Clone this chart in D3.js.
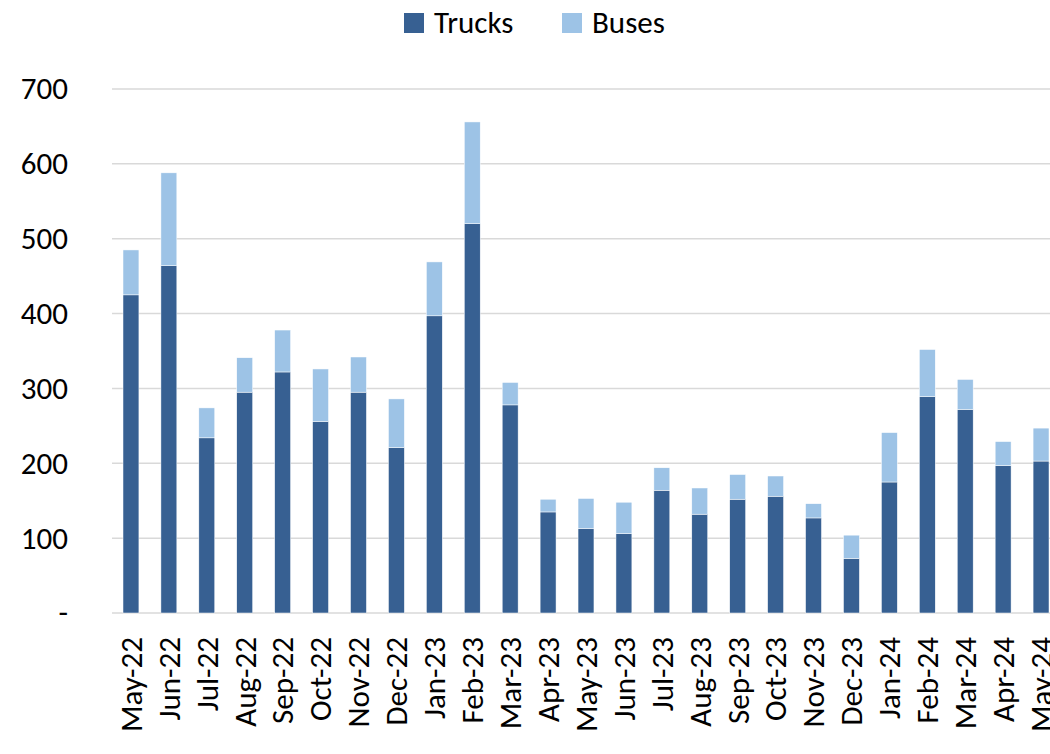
<!DOCTYPE html>
<html>
<head>
<meta charset="utf-8">
<script src="https://cdn.jsdelivr.net/npm/d3@7"></script>
<style>
  body { margin: 0; background: #fff; }
  text { font-family: Carlito, Calibri, Lato, "Open Sans", sans-serif; }
</style>
</head>
<body>
<div id="chart"></div>
<script>
// Data
const months = ["May-22", "Jun-22", "Jul-22", "Aug-22", "Sep-22", "Oct-22", "Nov-22", "Dec-22",
    "Jan-23", "Feb-23", "Mar-23", "Apr-23", "May-23", "Jun-23", "Jul-23", "Aug-23", "Sep-23",
    "Oct-23", "Nov-23", "Dec-23", "Jan-24", "Feb-24", "Mar-24", "Apr-24", "May-24"];
const trucks = [425, 464, 234, 295, 322, 256, 295, 221, 397, 520, 278, 135, 113, 106, 164, 132,
    152, 156, 127, 73, 175, 289, 272, 197, 203];
const buses = [60, 124, 40, 46, 56, 70, 47, 65, 72, 136, 30, 17, 40, 42, 30, 35,
    33, 27, 19, 31, 66, 63, 40, 32, 44];
const yTicks = [0, 100, 200, 300, 400, 500, 600, 700];
const seriesNames = ["Trucks", "Buses"];
const colors = ["#376092", "#9DC3E6"];

const W = 1050, H = 754;
const margin = {top: 89, right: -10, bottom: 141, left: 112};
const width = W - margin.left - margin.right,
    height = H - margin.top - margin.bottom;
const fontSize = 31;
const fontFamily = "Carlito, Calibri, Lato, 'Open Sans', sans-serif";

const svg = d3.select("#chart").append("svg")
    .attr("width", W)
    .attr("height", H);

const g = svg.append("g")
    .attr("transform", `translate(${margin.left},${margin.top})`);

const x = d3.scaleBand()
    .domain(months)
    .range([0, width])
    .paddingInner(0.58)
    .paddingOuter(0.29);

const y = d3.scaleLinear()
    .domain([0, 700])
    .range([height, 0]);

// Gridlines
g.selectAll("line.grid")
    .data(yTicks)
    .enter()
    .append("line")
    .attr("x1", 0)
    .attr("x2", width)
    .attr("y1", d => y(d))
    .attr("y2", d => y(d))
    .attr("stroke", "#d9d9d9")
    .attr("stroke-width", 1.5);

// Y axis labels
const yAxis = g.append("g")
    .call(d3.axisLeft(y).tickValues(yTicks).tickSize(0).tickPadding(44)
        .tickFormat(d => d === 0 ? "-" : d));
yAxis.select(".domain").remove();
yAxis.selectAll("text")
    .attr("font-size", fontSize)
    .attr("fill", "#000")
    .style("font-family", fontFamily);

// Stacked bars
const rows = months.map((m, i) => ({month: m, Trucks: trucks[i], Buses: buses[i]}));
const stacked = d3.stack().keys(seriesNames)(rows);

g.selectAll("g.series")
    .data(stacked)
    .enter()
    .append("g")
    .attr("fill", (d, i) => colors[i])
    .selectAll("rect")
    .data(d => d)
    .enter()
    .append("rect")
    .attr("x", d => x(d.data.month))
    .attr("width", x.bandwidth())
    .attr("y", d => y(d[1]))
    .attr("height", d => y(d[0]) - y(d[1]))
    .attr("stroke", "#fff")
    .attr("stroke-width", 0.5);

// X axis labels (rotated)
const xAxis = g.append("g")
    .attr("transform", `translate(0,${height})`)
    .call(d3.axisBottom(x).tickSize(0));
xAxis.select(".domain").remove();
xAxis.selectAll("text")
    .attr("font-size", fontSize)
    .attr("fill", "#000")
    .style("font-family", fontFamily)
    .attr("text-anchor", "end")
    .attr("transform", "rotate(-90)")
    .attr("x", -24)
    .attr("y", 0)
    .attr("dy", "0.35em");

// Legend
const legendX = [404, 562];
const legend = svg.selectAll("g.legend")
    .data(seriesNames)
    .enter()
    .append("g")
    .attr("transform", (d, i) => `translate(${legendX[i]},13)`);
legend.append("rect")
    .attr("width", 20)
    .attr("height", 20)
    .attr("fill", (d, i) => colors[i]);
legend.append("text")
    .attr("x", 30)
    .attr("y", 20)
    .attr("font-size", fontSize)
    .text(d => d);
</script>
</body>
</html>
